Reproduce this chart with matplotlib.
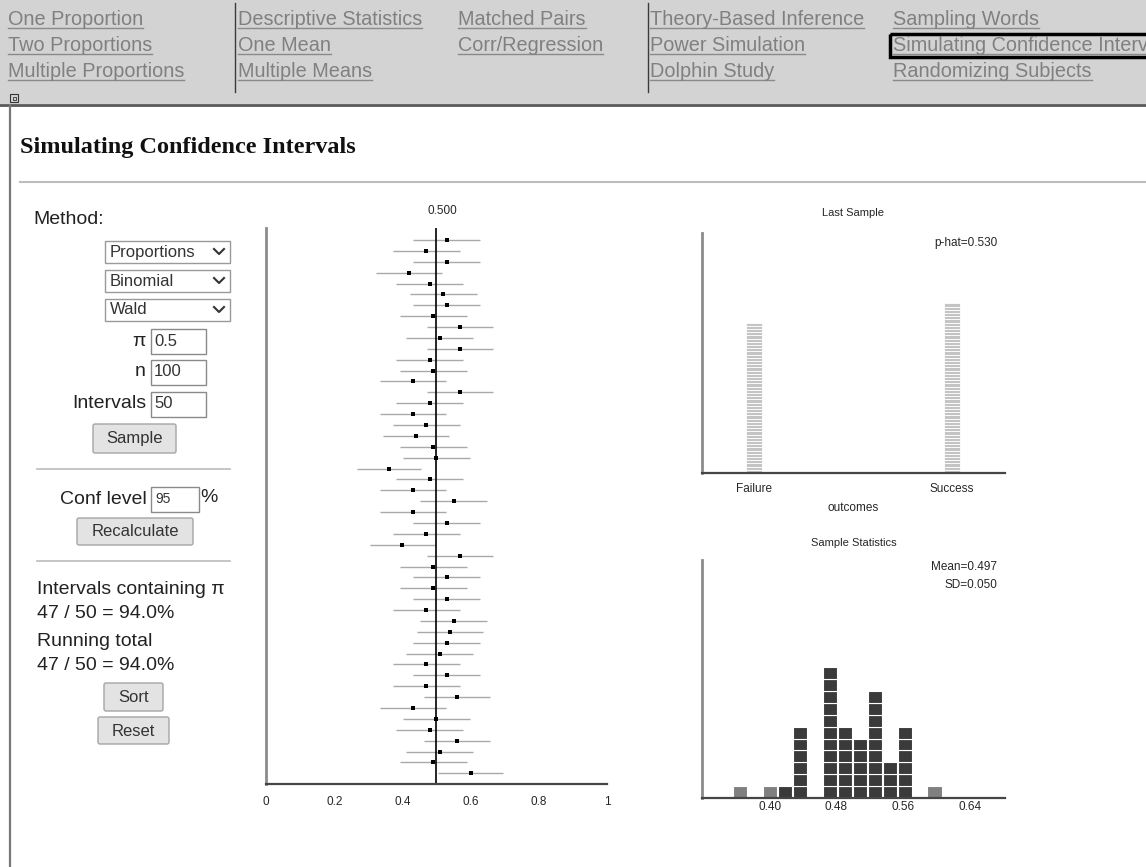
import numpy as np
import matplotlib
matplotlib.use("Agg")
import matplotlib.pyplot as plt
from matplotlib.patches import Rectangle, FancyBboxPatch
from matplotlib.transforms import offset_copy

plt.rcParams['font.family'] = ['Liberation Sans', 'DejaVu Sans']

# ---------------- data ----------------
phat = [0.53, 0.47, 0.53, 0.42, 0.48, 0.52, 0.53, 0.49, 0.57, 0.51,
        0.57, 0.48, 0.49, 0.43, 0.57, 0.48, 0.43, 0.47, 0.44, 0.49,
        0.50, 0.36, 0.48, 0.43, 0.55, 0.43, 0.53, 0.47, 0.40, 0.57,
        0.49, 0.53, 0.49, 0.53, 0.47, 0.55, 0.54, 0.53, 0.51, 0.47,
        0.53, 0.47, 0.56, 0.43, 0.50, 0.48, 0.56, 0.51, 0.49, 0.60]
pi0 = 0.5
n_size = 100
z_crit = 1.96
interval_ticks = [0, 0.2, 0.4, 0.6, 0.8, 1]
interval_ticklabels = ['0', '0.2', '0.4', '0.6', '0.8', '1']

outcome_labels = ['Failure', 'Success']
outcome_counts = [47, 53]

hist_ticks = [0.40, 0.48, 0.56, 0.64]
bin_start = 0.355
bin_width = 0.018

nav_columns = [
    (8, ['One Proportion', 'Two Proportions', 'Multiple Proportions']),
    (238, ['Descriptive Statistics', 'One Mean', 'Multiple Means']),
    (458, ['Matched Pairs', 'Corr/Regression']),
    (650, ['Theory-Based Inference', 'Power Simulation', 'Dolphin Study']),
    (893, ['Sampling Words', 'Simulating Confidence Intervals', 'Randomizing Subjects']),
]
dropdown_options = ['Proportions', 'Binomial', 'Wald']

# ---------------- derived ----------------
p = np.array(phat)
se = np.sqrt(p * (1 - p) / n_size)
lo = p - z_crit * se
hi = p + z_crit * se
contains = (lo <= pi0) & (hi >= pi0)
n_int = len(p)
n_cont = int(contains.sum())

W, H = 1146, 867
fig = plt.figure(figsize=(W / 100, H / 100), dpi=100)
fig.patch.set_facecolor('white')

bg = fig.add_axes([0, 0, 1, 1])
bg.set_xlim(0, W)
bg.set_ylim(H, 0)
bg.axis('off')
bg.set_zorder(0)


def px_axes(l, t, r, b):
    return fig.add_axes([l / W, 1 - b / H, (r - l) / W, (b - t) / H])


# ---------------- nav bar ----------------
bg.add_patch(Rectangle((0, 0), W, 104, facecolor='#d3d3d3', edgecolor='none'))
bg.plot([0, W], [105, 105], color='#585858', lw=2)
for sx in (235, 648):
    bg.plot([sx, sx], [3, 92], color='#3a3a3a', lw=1)
nav_texts = []
baselines = [25, 51, 77]
for x0, items in nav_columns:
    for i, it in enumerate(items):
        t = bg.text(x0, baselines[i], it, fontsize=14.3, color='#808080',
                    va='baseline', ha='left', clip_on=True)
        nav_texts.append((t, baselines[i]))
bg.add_patch(Rectangle((890, 34), 270, 23, facecolor='none', edgecolor='black', lw=2.5))
bg.add_patch(Rectangle((10, 94), 8, 8, facecolor='#d3d3d3', edgecolor='#333', lw=0.8))
bg.add_patch(Rectangle((12.5, 96.5), 3, 3, facecolor='none', edgecolor='#333', lw=0.6))

# left border
bg.plot([10, 10], [105, H], color='#777777', lw=1.6)

# title
bg.text(20, 148, 'Simulating Confidence Intervals', fontfamily='Liberation Serif',
        fontweight='bold', fontsize=17.5, va='center', ha='left', color='#111')
bg.plot([20, W], [182, 182], color='#bdbdbd', lw=1.5)

# ---------------- left panel ----------------
lab_fs = 14
ctl_fs = 12
bg.text(33, 220, 'Method:', fontsize=lab_fs, va='center', ha='left', color='#222')
for i, opt in enumerate(dropdown_options):
    y0 = 241 + i * 29
    bg.add_patch(Rectangle((105, y0), 125, 22, facecolor='white', edgecolor='#9a9a9a', lw=1))
    bg.text(110, y0 + 11, opt, fontsize=ctl_fs, va='center', ha='left', color='#333')
    bg.plot([214, 219, 224], [y0 + 8, y0 + 13, y0 + 8], color='#333', lw=1.5)

fields = [('π', '0.5', 341), ('n', '100', 372), ('Intervals', '50', 404)]
for lab, val, yc in fields:
    bg.text(146, yc, lab, fontsize=lab_fs, va='center', ha='right', color='#222')
    bg.add_patch(Rectangle((151, yc - 12), 55, 25, facecolor='white', edgecolor='#8a8a8a', lw=1))
    bg.text(154, yc, val, fontsize=ctl_fs, va='center', ha='left', color='#333')


def button(x0, y0, w, h, label):
    bg.add_patch(FancyBboxPatch((x0, y0), w, h, boxstyle='round,pad=0,rounding_size=2',
                                facecolor='#e3e3e3', edgecolor='#a5a5a5', lw=1))
    bg.text(x0 + w / 2, y0 + h / 2 + 0.5, label, fontsize=ctl_fs, va='center', ha='center', color='#333')


button(93, 424, 83, 29, 'Sample')
bg.plot([37, 230], [469, 469], color='#bbbbbb', lw=1.2)
bg.text(147, 499, 'Conf level', fontsize=lab_fs, va='center', ha='right', color='#222')
bg.add_patch(Rectangle((151, 487), 48, 25, facecolor='white', edgecolor='#8a8a8a', lw=1))
bg.text(155, 499, '95', fontsize=10, va='center', ha='left', color='#333')
bg.text(200, 497, '%', fontsize=lab_fs, va='center', ha='left', color='#222')
button(77, 518, 116, 27, 'Recalculate')
bg.plot([37, 230], [561, 561], color='#bbbbbb', lw=1.2)
ratio_txt = f'{n_cont} / {n_int} = {100 * n_cont / n_int:.1f}%'
bg.text(37, 590, 'Intervals containing π', fontsize=lab_fs, va='center', ha='left', color='#222')
bg.text(37, 614, ratio_txt, fontsize=lab_fs, va='center', ha='left', color='#222')
bg.text(37, 641, 'Running total', fontsize=lab_fs, va='center', ha='left', color='#222')
bg.text(37, 666, ratio_txt, fontsize=lab_fs, va='center', ha='left', color='#222')
button(104, 683, 59, 28, 'Sort')
button(98, 717, 71, 27, 'Reset')

small_fs = 8.5
txt_col = '#262626'

# ---------------- intervals plot ----------------
ax1 = px_axes(266, 228, 607, 784)
rows = np.arange(1, n_int + 1)
ax1.hlines(rows, lo, hi, color='#a9a9a9', lw=1.0)
ax1.plot(p, rows, 's', color='black', ms=2.8, mew=0)
ax1.axvline(pi0, color='black', lw=1.2)
ax1.set_xlim(0, 1)
ax1.set_ylim(50.98, -0.1)
ax1.set_xticks(interval_ticks)
ax1.set_xticklabels(interval_ticklabels)
ax1.set_yticks([])
ax1.tick_params(axis='x', length=0, pad=8.5, labelsize=small_fs, labelcolor=txt_col)
for s in ('top', 'right'):
    ax1.spines[s].set_visible(False)
ax1.spines['left'].set_color('#8c8c8c')
ax1.spines['left'].set_linewidth(2.0)
ax1.spines['bottom'].set_color('#454545')
ax1.spines['bottom'].set_linewidth(1.6)
ax1.set_facecolor('none')
ttl_tr = offset_copy(ax1.get_xaxis_transform(), fig=fig, x=4, y=0, units='points')
ax1.text(pi0, 1.02, f'{pi0:.3f}', transform=ttl_tr, ha='center',
         va='bottom', fontsize=small_fs, color=txt_col)

# ---------------- last sample ----------------
ax2 = px_axes(702, 233, 1005, 473)
for i, c in enumerate(outcome_counts):
    ax2.bar(np.full(c, i), 1, bottom=np.arange(c), width=0.078,
            color='#c4c4c4', edgecolor='white', lw=0.6)
ax2.set_xlim(-0.263, 1.268)
ax2.set_ylim(0, 75)
ax2.set_xticks(range(len(outcome_labels)))
ax2.set_xticklabels(outcome_labels)
ax2.set_yticks([])
ax2.tick_params(axis='x', length=0, pad=7, labelsize=small_fs, labelcolor=txt_col)
ax2.set_xlabel('outcomes', fontsize=small_fs, color=txt_col, labelpad=5)
ax2.set_title('Last Sample', fontsize=8, color=txt_col, pad=12)
for s in ('top', 'right'):
    ax2.spines[s].set_visible(False)
ax2.spines['left'].set_color('#8c8c8c')
ax2.spines['left'].set_linewidth(2.0)
ax2.spines['bottom'].set_color('#454545')
ax2.spines['bottom'].set_linewidth(1.6)
phat_last = outcome_counts[1] / sum(outcome_counts)
ax2.text(0.977, 0.958, f'p-hat={phat_last:.3f}', transform=ax2.transAxes, ha='right',
         va='center', fontsize=small_fs, color=txt_col)

# ---------------- sample statistics ----------------
ax3 = px_axes(702, 560, 1005, 798)
bin_idx = np.floor((p - bin_start) / bin_width).astype(int)
centers = bin_start + (bin_idx + 0.5) * bin_width
levels = np.zeros(n_int)
seen = {}
for k, b in enumerate(bin_idx):
    levels[k] = seen.get(b, 0)
    seen[b] = seen.get(b, 0) + 1
cols = np.where(contains, '#3a3a3a', '#808080')
ax3.bar(centers, 1, bottom=levels, width=bin_width * 0.96, color=cols,
        edgecolor='white', lw=0.8)
ax3.set_xlim(0.3184, 0.6825)
ax3.set_ylim(0, 20)
ax3.set_xticks(hist_ticks)
ax3.set_xticklabels([f'{v:.2f}' for v in hist_ticks])
ax3.set_yticks([])
ax3.tick_params(axis='x', length=0, pad=2, labelsize=small_fs, labelcolor=txt_col)
ax3.set_title('Sample Statistics', fontsize=8, color=txt_col, pad=10)
for s in ('top', 'right'):
    ax3.spines[s].set_visible(False)
ax3.spines['left'].set_color('#8c8c8c')
ax3.spines['left'].set_linewidth(2.0)
ax3.spines['bottom'].set_color('#454545')
ax3.spines['bottom'].set_linewidth(1.6)
ax3.text(0.974, 0.972, f'Mean={p.mean():.3f}', transform=ax3.transAxes, ha='right',
         va='center', fontsize=small_fs, color=txt_col)
ax3.text(0.974, 0.895, f'SD={p.std(ddof=1):.3f}', transform=ax3.transAxes, ha='right',
         va='center', fontsize=small_fs, color=txt_col)

# underlines for nav links
fig.canvas.draw()
renderer = fig.canvas.get_renderer()
inv = bg.transData.inverted()
for t, yb in nav_texts:
    bb = t.get_window_extent(renderer)
    xa = inv.transform((bb.x0, bb.y0))[0]
    xb = min(inv.transform((bb.x1, bb.y0))[0], W)
    bg.plot([xa, xb], [yb + 2.5, yb + 2.5], color='#8a8a8a', lw=1)

fig.savefig('out.png', dpi=100)
